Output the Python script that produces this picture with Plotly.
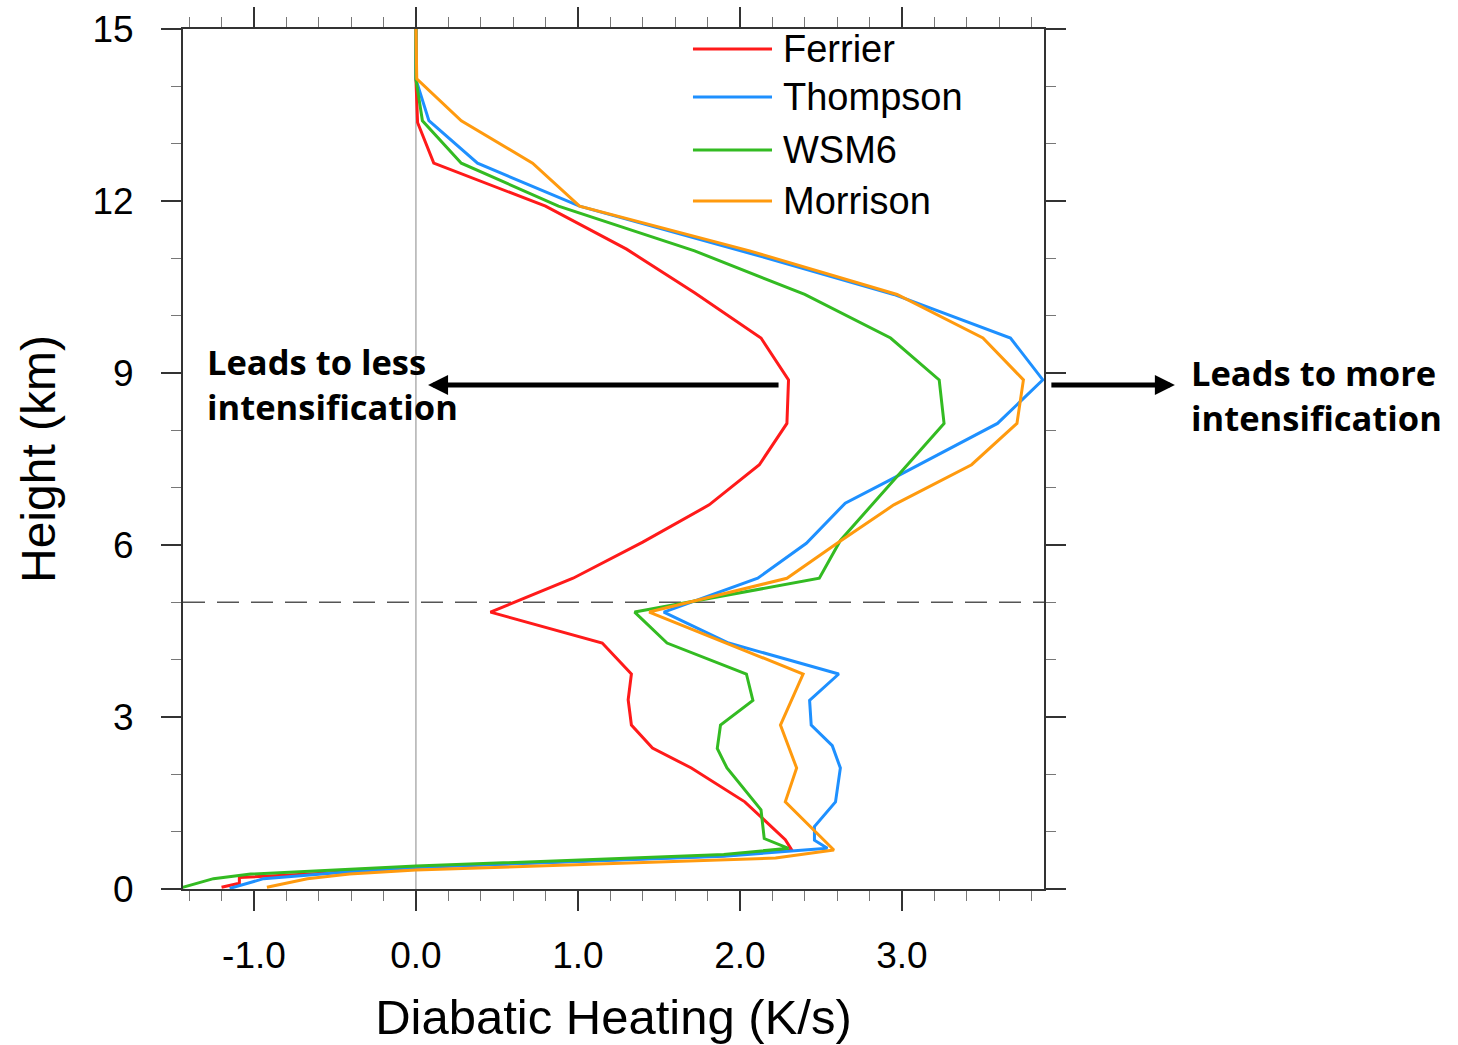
import plotly.graph_objects as go

# ---------------- data ----------------
ferrier_x = [-1.20, -1.09, -1.09, -0.60, 0.00, 1.90, 2.32, 2.28, 2.03, 1.86, 1.70, 1.46, 1.33, 1.31,
             1.33, 1.15, 0.46, 0.97, 1.40, 1.81, 2.12, 2.29, 2.30, 2.13, 1.72, 1.30, 0.80, 0.11, 0.01,
             0.00, 0.00]
ferrier_y = [0.03, 0.10, 0.20, 0.27, 0.38, 0.58, 0.68, 0.86, 1.52, 1.82, 2.11, 2.46, 2.86, 3.30,
             3.75, 4.29, 4.83, 5.42, 6.05, 6.70, 7.40, 8.12, 8.88, 9.61, 10.40, 11.16, 11.91, 12.66,
             13.37, 14.12, 15.0]

thompson_x = [-1.15, -0.94, -0.41, 0.00, 1.90, 2.54, 2.46, 2.46, 2.59, 2.62, 2.57, 2.44, 2.43, 2.61,
              1.93, 1.53, 2.11, 2.41, 2.65, 2.91, 3.59, 3.87, 3.67, 2.95, 2.16, 1.01, 0.38, 0.08,
              0.00, 0.00]
thompson_y = [0.01, 0.18, 0.30, 0.38, 0.57, 0.71, 0.85, 1.09, 1.52, 2.11, 2.50, 2.86, 3.29, 3.75,
              4.29, 4.83, 5.42, 6.03, 6.73, 7.11, 8.12, 8.88, 9.61, 10.37, 11.01, 11.91, 12.66,
              13.40, 14.12, 15.0]

wsm6_x = [-1.44, -1.25, -1.02, 0.00, 1.90, 2.30, 2.15, 2.13, 1.92, 1.86, 1.88, 2.08, 2.04, 1.55,
          1.35, 2.49, 2.62, 3.26, 3.23, 2.93, 2.40, 1.72, 0.88, 0.28, 0.04, 0.00, 0.00]
wsm6_y = [0.03, 0.18, 0.26, 0.40, 0.60, 0.71, 0.88, 1.38, 2.11, 2.45, 2.86, 3.29, 3.75, 4.29,
          4.83, 5.42, 6.08, 8.12, 8.88, 9.61, 10.37, 11.13, 11.91, 12.66, 13.40, 14.12, 15.0]

morrison_x = [-0.92, -0.67, -0.41, 0.00, 2.22, 2.58, 2.28, 2.35, 2.25, 2.39, 1.44, 2.29, 2.60,
              2.95, 3.43, 3.71, 3.75, 3.50, 2.97, 2.06, 1.01, 0.72, 0.28, 0.005, 0.00]
morrison_y = [0.03, 0.18, 0.26, 0.33, 0.54, 0.68, 1.52, 2.11, 2.86, 3.75, 4.83, 5.42, 6.03,
              6.70, 7.40, 8.12, 8.88, 9.61, 10.37, 11.13, 11.91, 12.66, 13.40, 14.13, 15.0]

series_names = ["Ferrier", "Thompson", "WSM6", "Morrison"]
series_colors = ["#ff1a1a", "#1e90ff", "#33bb22", "#ff9a0e"]
reference_height = 5.0           # dashed line (km)
x_tick_values = [-1, 0, 1, 2, 3]
x_tick_labels = ["-1.0", "0.0", "1.0", "2.0", "3.0"]
y_tick_values = [0, 3, 6, 9, 12, 15]
left_note = "Leads to less<br>intensification"
right_note = "Leads to more<br>intensification"

# ---------------- figure ----------------
fig = go.Figure()
xs = [ferrier_x, thompson_x, wsm6_x, morrison_x]
ys = [ferrier_y, thompson_y, wsm6_y, morrison_y]
for name, col, x, y in zip(series_names, series_colors, xs, ys):
    fig.add_trace(go.Scatter(x=x, y=y, mode="lines", name=name,
                             line=dict(color=col, width=3), showlegend=False))

AX = "#333333"
FONT = "Liberation Sans, Arial, Helvetica, sans-serif"

fig.update_layout(
    width=1458, height=1045,
    margin=dict(l=183, r=414, t=29, b=156),
    paper_bgcolor="white", plot_bgcolor="white",
    font=dict(family=FONT, color="black"),
    xaxis=dict(
        range=[-1.438, 3.877], tickvals=x_tick_values, ticktext=x_tick_labels,
        automargin=False,
        ticks="outside", ticklen=20, tickwidth=1.5, tickcolor=AX,
        mirror="allticks", showline=True, linewidth=2, linecolor=AX,
        showgrid=False, zeroline=False,
        minor=dict(dtick=0.2, tick0=0, ticks="outside", ticklen=10, tickwidth=1,
                   tickcolor="#777777", showgrid=False),
        tickfont=dict(size=37, family=FONT), ticklabelstandoff=13,
        title=dict(text="Diabatic Heating (K/s)", font=dict(size=49, family=FONT), standoff=24),
    ),
    yaxis=dict(
        range=[0, 15], tickvals=y_tick_values,
        automargin=False,
        ticks="outside", ticklen=20, tickwidth=1.5, tickcolor=AX,
        mirror="allticks", showline=True, linewidth=2, linecolor=AX,
        showgrid=False, zeroline=False,
        minor=dict(dtick=1, tick0=0, ticks="outside", ticklen=10, tickwidth=1,
                   tickcolor="#777777", showgrid=False),
        tickfont=dict(size=37, family=FONT), ticklabelstandoff=20,
        title=dict(text="Height (km)", font=dict(size=48, family=FONT), standoff=22),
    ),
)

# zero line and reference height line
fig.add_shape(type="line", xref="x", yref="paper", x0=0, x1=0, y0=0, y1=1,
              line=dict(color="#888888", width=1), layer="below")
fig.add_shape(type="line", xref="paper", yref="y", x0=0, x1=1,
              y0=reference_height, y1=reference_height,
              line=dict(color="#555555", width=1.5, dash="22px,12px"), layer="below")

# custom legend (long line samples like the original)
leg_y = [0.9767, 0.9209, 0.8593, 0.800]
for name, col, ly in zip(series_names, series_colors, leg_y):
    fig.add_shape(type="line", xref="paper", yref="paper", x0=0.5923, x1=0.6841,
                  y0=ly, y1=ly, line=dict(color=col, width=3))
    fig.add_annotation(xref="paper", yref="paper", x=0.6945, y=ly, text=name,
                       showarrow=False, xanchor="left", yanchor="middle",
                       font=dict(size=38, family=FONT, color="black"))

# arrows
fig.add_annotation(xref="paper", yref="paper", x=0.2846, y=0.586, ax=352, ay=0,
                   text="", showarrow=True, arrowhead=2, arrowsize=0.8,
                   arrowwidth=5, arrowcolor="black")
fig.add_annotation(xref="paper", yref="paper", x=1.152, y=0.586, ax=-125, ay=0,
                   text="", showarrow=True, arrowhead=2, arrowsize=0.8,
                   arrowwidth=5, arrowcolor="black")

BOLD = "Open Sans, Lato, sans-serif"
fig.add_annotation(xref="paper", yref="paper", x=0.0256, y=0.5870, text="<b>" + left_note + "</b>",
                   showarrow=False, xanchor="left", yanchor="middle", align="left",
                   font=dict(size=34.5, family=BOLD, color="black"))
fig.add_annotation(xref="paper", yref="paper", x=1.168, y=0.574, text="<b>" + right_note + "</b>",
                   showarrow=False, xanchor="left", yanchor="middle", align="left",
                   font=dict(size=34.5, family=BOLD, color="black"))

fig.write_html("out.html")
